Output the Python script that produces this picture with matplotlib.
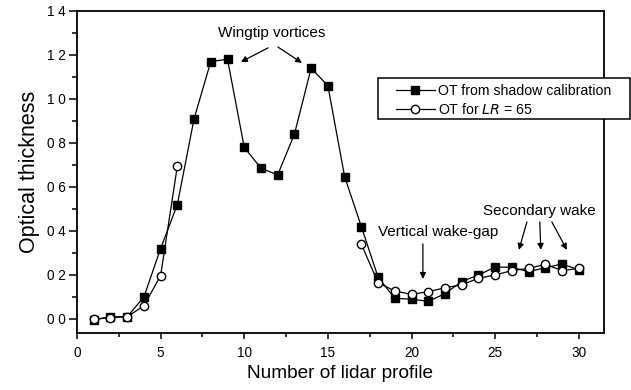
import numpy as np
import matplotlib
matplotlib.use("Agg")
import matplotlib.pyplot as plt
from matplotlib.patches import Rectangle
from matplotlib.ticker import MultipleLocator, FixedLocator, FixedFormatter

plt.rcParams['font.family'] = ['Liberation Sans', 'DejaVu Sans']

profile = list(range(1, 31))

# optical thickness from the shadow calibration
ot_shadow = [-0.005, 0.01, 0.01, 0.10, 0.32, 0.52, 0.91, 1.17, 1.18, 0.78,
             0.685, 0.655, 0.84, 1.14, 1.06, 0.647, 0.42, 0.19, 0.094, 0.09,
             0.08, 0.115, 0.17, 0.20, 0.236, 0.235, 0.215, 0.233, 0.25, 0.223]

# optical thickness with lidar ratio 65 (no values inside the vortex core)
ot_lr65 = [0.0, 0.006, 0.01, 0.06, 0.197, 0.695, None, None, None, None,
           None, None, None, None, None, None, 0.34, 0.165, 0.127, 0.112,
           0.124, 0.142, 0.155, 0.185, 0.20, 0.22, 0.23, 0.248, 0.22, 0.23]

ytick_values = [0.0, 0.2, 0.4, 0.6, 0.8, 1.0, 1.2, 1.4]
ytick_labels = ["0 0", "0 2", "0 4", "0 6", "0 8", "1 0", "1 2", "1 4"]
xtick_values = [0, 5, 10, 15, 20, 25, 30]

fig = plt.figure(figsize=(6.31, 3.90), dpi=100)
ax = fig.add_axes([0.122, 0.146, 0.835, 0.826])

lr65 = np.array([np.nan if v is None else v for v in ot_lr65])

ax.plot(profile, lr65, color='black', lw=0.9, marker='o', ms=6,
        mfc='white', mec='black', mew=1.0, label=r'OT for $LR$ = 65', zorder=3)
ax.plot(profile, ot_shadow, color='black', lw=0.9, marker='s', ms=6.3,
        mfc='black', mec='black', label='OT from shadow calibration', zorder=2)

ax.set_xlim(0, 31.5)
ax.set_ylim(-0.064, 1.4)

ax.xaxis.set_major_locator(FixedLocator(xtick_values))
ax.xaxis.set_minor_locator(MultipleLocator(2.5))
ax.yaxis.set_major_locator(FixedLocator(ytick_values))
ax.yaxis.set_major_formatter(FixedFormatter(ytick_labels))
ax.yaxis.set_minor_locator(MultipleLocator(0.1))

ax.tick_params(axis='both', which='both', direction='out', width=1.1,
               labelsize=9.8, color='black')
ax.tick_params(axis='y', which='major', length=6, pad=2)
ax.tick_params(axis='y', which='minor', length=3.5)
ax.tick_params(axis='x', which='major', length=4, pad=5)
ax.tick_params(axis='x', which='minor', length=3)

for side in ax.spines.values():
    side.set_linewidth(1.3)

ax.set_xlabel('Number of lidar profile', fontsize=13.7, labelpad=4)
ax.set_ylabel('Optical thickness', fontsize=15.5, labelpad=5)

arrow = dict(arrowstyle='-|>', color='black', lw=0.9, mutation_scale=9,
             shrinkA=0, shrinkB=0)

ax.text(11.65, 1.300, 'Wingtip vortices', ha='center', va='center', fontsize=11)
ax.annotate('', xy=(9.80, 1.168), xytext=(11.42, 1.232), arrowprops=arrow)
ax.annotate('', xy=(13.45, 1.164), xytext=(12.01, 1.236), arrowprops=arrow)

ax.text(21.58, 0.395, 'Vertical wake-gap', ha='center', va='center', fontsize=11)
ax.annotate('', xy=(20.68, 0.182), xytext=(20.68, 0.341), arrowprops=arrow)

ax.text(27.67, 0.491, 'Secondary wake', ha='center', va='center', fontsize=11)
ax.annotate('', xy=(26.42, 0.314), xytext=(26.90, 0.441), arrowprops=arrow)
ax.annotate('', xy=(27.73, 0.314), xytext=(27.67, 0.441), arrowprops=arrow)
ax.annotate('', xy=(29.29, 0.314), xytext=(28.39, 0.441), arrowprops=arrow)

# legend box runs past the right spine, so the frame is drawn by hand
ax.add_patch(Rectangle((0.571, 0.665), 0.478, 0.127, transform=ax.transAxes,
                       fill=True, fc='white', ec='black', lw=1.1,
                       clip_on=False, zorder=4))
handles, labels = ax.get_legend_handles_labels()
leg = ax.legend(handles[::-1], labels[::-1], loc='upper left',
                bbox_to_anchor=(0.605, 0.773), fontsize=10.2, frameon=False,
                handlelength=2.75, labelspacing=0.25, borderpad=0,
                handletextpad=0.25, borderaxespad=0)
leg.set_zorder(5)

fig.savefig('out.png', dpi=100)
